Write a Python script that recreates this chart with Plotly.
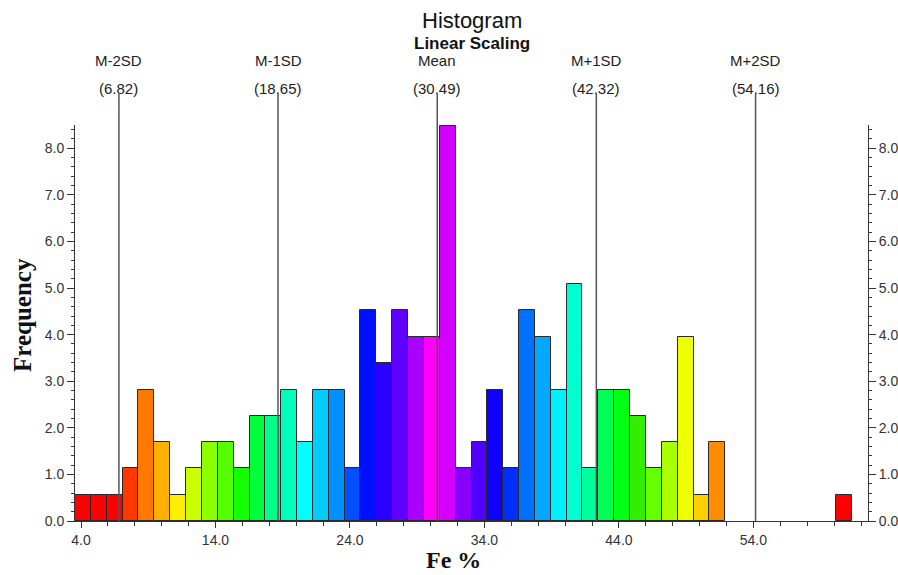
import plotly.graph_objects as go

# ---- data ----
bin_edges = [3.55, 4.73, 5.91, 7.09, 8.27, 9.45, 10.63, 11.81, 12.99, 14.17,
             15.35, 16.53, 17.71, 18.89, 20.06, 21.24, 22.42, 23.60, 24.78, 25.96,
             27.14, 28.32, 29.50, 30.68, 31.86, 33.04, 34.22, 35.40, 36.58, 37.75,
             38.93, 40.11, 41.29, 42.47, 43.65, 44.83, 46.01, 47.19, 48.37, 49.55,
             50.73, 51.91, 53.09, 54.27, 55.45, 56.63, 57.80, 58.98, 60.16, 61.34]

freq = [0.56, 0.56, 0.56, 1.13, 2.82, 1.69, 0.56, 1.13, 1.69, 1.69,
        1.13, 2.26, 2.26, 2.82, 1.69, 2.82, 2.82, 1.13, 4.52, 3.39,
        4.52, 3.95, 3.95, 8.47, 1.13, 1.69, 2.82, 1.13, 4.52, 3.95,
        2.82, 5.08, 1.13, 2.82, 2.82, 2.26, 1.13, 1.69, 3.95, 0.56,
        1.69, 0, 0, 0, 0, 0, 0, 0, 0.56]

bar_colors = ["#ff0000", "#ff0000", "#ff0000", "#ff3800", "#ff7800", "#ffb000", "#ffee00", "#ccff00",
              "#8cff00", "#55ff00", "#14ff00", "#00ff38", "#00ff88", "#00ffbb", "#00ffff", "#00ccff",
              "#0090ff", "#0050ff", "#0010ff", "#2a00ff", "#6000ff", "#aa00ff", "#ff00ff", "#d400ff",
              "#8800ff", "#5000ff", "#1000ff", "#0030ff", "#0070ff", "#00a8ff", "#00f0ff", "#00ffd0",
              "#00ff9a", "#00ff55", "#00ff10", "#33ee00", "#66ff00", "#aaff00", "#eeff00", "#ffd000",
              "#ff8c00", "#ffffff", "#ffffff", "#ffffff", "#ffffff", "#ffffff", "#ffffff", "#ffffff",
              "#ff0000"]

sd_values = [6.82, 18.65, 30.49, 42.32, 54.16]
sd_names = ["M-2SD", "M-1SD", "Mean", "M+1SD", "M+2SD"]
sd_labels = ["(6.82)", "(18.65)", "(30.49)", "(42.32)", "(54.16)"]

x_ticks = [4.0, 14.0, 24.0, 34.0, 44.0, 54.0]
y_ticks = [0.0, 1.0, 2.0, 3.0, 4.0, 5.0, 6.0, 7.0, 8.0]

x_range = [3.554, 62.52]
y_range = [0, 8.5]

# ---- build bars (skip empty bins) ----
xs, ws, hs, cs = [], [], [], []
for i, h in enumerate(freq):
    if h <= 0:
        continue
    left, right = bin_edges[i], bin_edges[i + 1]
    xs.append((left + right) / 2)
    ws.append(right - left)
    hs.append(h)
    cs.append(bar_colors[i])

fig = go.Figure()
fig.add_trace(go.Bar(x=xs, y=hs, width=ws, marker=dict(color=cs, line=dict(color="#2a2a2a", width=1)),
                     showlegend=False, hoverinfo="x+y"))
fig.add_trace(go.Scatter(x=[None], y=[None], yaxis="y2", showlegend=False, hoverinfo="skip"))

tickfont = dict(family="Liberation Sans, Arial, sans-serif", size=14, color="#333333")
axis_common = dict(showline=True, linecolor="#333333", linewidth=1, ticks="outside",
                   tickcolor="#333333", showgrid=False, zeroline=False, tickfont=tickfont,
                   automargin=False)

fig.update_layout(
    width=898, height=575,
    margin=dict(l=75, r=30, t=125, b=54, autoexpand=False),
    plot_bgcolor="white", paper_bgcolor="white",
    bargap=0,
    xaxis=dict(range=x_range, tickvals=x_ticks, tickformat=".1f", ticklen=6,
               minor=dict(dtick=2, tick0=4, ticks="outside", ticklen=4, tickcolor="#333333", showgrid=False),
               **axis_common),
    yaxis=dict(range=y_range, tickvals=y_ticks, tickformat=".1f", ticklen=7,
               minor=dict(dtick=0.2, ticks="outside", ticklen=3, tickcolor="#333333", showgrid=False),
               **axis_common),
    yaxis2=dict(range=y_range, tickvals=y_ticks, tickformat=".1f", ticklen=7, overlaying="y", side="right",
                minor=dict(dtick=0.2, ticks="outside", ticklen=3, tickcolor="#333333", showgrid=False),
                **axis_common),
)

# SD lines and labels
for v, name, lab in zip(sd_values, sd_names, sd_labels):
    fig.add_shape(type="line", xref="x", yref="paper", x0=v, x1=v, y0=0, y1=1.078,
                  line=dict(color="#555555", width=1.5), layer="above")
    fig.add_annotation(x=v, xref="x", y=1.164, yref="paper", text=name, showarrow=False,
                       font=dict(family="Liberation Sans, Arial, sans-serif", size=15, color="#222222"),
                       xanchor="center", yanchor="middle")
    fig.add_annotation(x=v, xref="x", y=1.093, yref="paper", text=lab, showarrow=False,
                       font=dict(family="Liberation Sans, Arial, sans-serif", size=15, color="#222222"),
                       xanchor="center", yanchor="middle")

# Titles
fig.add_annotation(x=0.5, xref="paper", y=1.265, yref="paper", text="Histogram", showarrow=False,
                   font=dict(family="Liberation Sans, Arial, sans-serif", size=22, color="#111111"),
                   xanchor="center", yanchor="middle")
fig.add_annotation(x=0.5, xref="paper", y=1.207, yref="paper", text="<b>Linear Scaling</b>", showarrow=False,
                   font=dict(family="Liberation Sans, Arial, sans-serif", size=17, color="#111111"),
                   xanchor="center", yanchor="middle")

# Axis titles
fig.add_annotation(x=0.477, xref="paper", y=-0.098, yref="paper", text="<b>Fe %</b>", showarrow=False,
                   font=dict(family="Liberation Serif, Times New Roman, serif", size=24, color="#111111"),
                   xanchor="center", yanchor="middle")
fig.add_annotation(x=-0.067, xref="paper", y=0.52, yref="paper", text="<b>Frequency</b>", showarrow=False,
                   textangle=-90,
                   font=dict(family="Liberation Serif, Times New Roman, serif", size=25, color="#111111"),
                   xanchor="center", yanchor="middle")

# remove the default page margin so the 898x575 figure fills the window exactly
fig.write_html("out.html", config={"displayModeBar": False},
               post_script="document.body.style.margin='0';document.body.style.overflow='hidden';")
